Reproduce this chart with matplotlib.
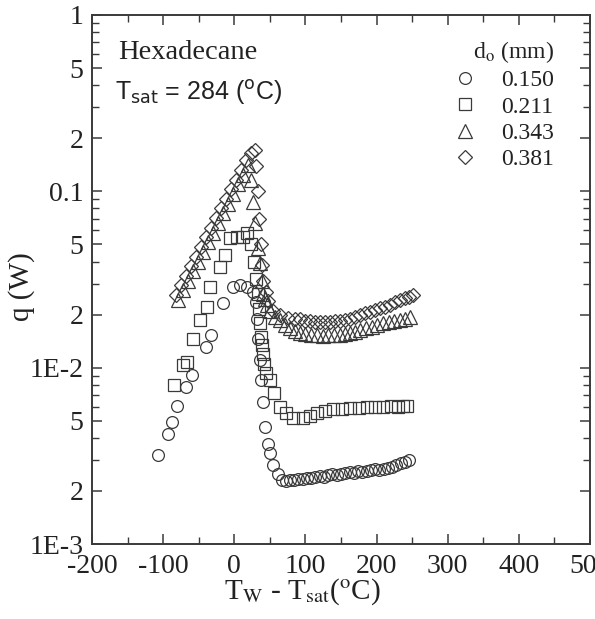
import matplotlib
matplotlib.use("Agg")
import matplotlib.pyplot as plt
from matplotlib import ticker

# d_o = 0.150 mm
circ_x = [-107, -93, -88, -80, -68, -59, -40, -33, -16, -2, 8, 18, 26,
          30, 32, 34, 36, 38, 40, 43, 47, 50, 54, 61, 67,
          72, 78, 84, 90, 96, 102, 108, 114, 120, 126, 132, 138, 144, 150, 156,
          162, 168, 174, 180, 186, 192, 198, 204, 210, 216, 222, 228, 234, 240, 245]
circ_y = [0.0032, 0.0042, 0.0049, 0.0061, 0.0078, 0.0091, 0.0131, 0.0153, 0.0233, 0.0287, 0.0294, 0.0287, 0.0270,
          0.0235, 0.0190, 0.0145, 0.0110, 0.0085, 0.0064, 0.0046, 0.0037, 0.0033, 0.0028, 0.0025, 0.0023,
          0.00228, 0.00232, 0.00230, 0.00235, 0.00233, 0.00238, 0.00236, 0.00240, 0.00242, 0.00240,
          0.00245, 0.00248, 0.00246, 0.00250, 0.00252, 0.00255, 0.00253, 0.00258, 0.00256, 0.00260,
          0.00262, 0.00265, 0.00263, 0.00268, 0.00270, 0.00275, 0.00280, 0.00288, 0.00292, 0.00300]

# d_o = 0.211 mm
sq_x = [-85, -72, -66, -58, -48, -38, -34, -20, -13, -6, 4, 12, 18,
        24, 28, 31, 33, 35, 36, 38, 39, 40, 42, 45, 50, 56, 64, 72, 83, 97,
        106, 116, 128, 139, 151, 163, 175, 187, 198, 209, 220, 230, 237, 243]
sq_y = [0.0080, 0.0104, 0.0108, 0.0145, 0.0186, 0.0221, 0.0287, 0.0372, 0.0436, 0.0544, 0.0551, 0.0551, 0.0580,
        0.050, 0.040, 0.032, 0.026, 0.0215, 0.018, 0.015, 0.0135, 0.012, 0.0105, 0.0093, 0.0085, 0.0072,
        0.0060, 0.0055, 0.0052, 0.0052,
        0.0053, 0.0055, 0.0057, 0.0058, 0.0058, 0.0059, 0.0059, 0.0060, 0.0060, 0.0060, 0.0061, 0.0060,
        0.0061, 0.0061]

# d_o = 0.343 mm
tri_x = [-79, -72, -65, -58, -51, -44, -37, -30, -23, -16, -9, -2, 5, 12, 19,
         24, 26, 29, 33, 36, 39, 40, 43, 46, 50, 57, 64, 71, 78, 85, 92,
         100, 108, 116, 124, 132, 140, 149, 156, 163, 170, 177, 185, 193, 201, 209, 217, 225, 233, 240, 247]
tri_y = [0.0242, 0.0276, 0.0310, 0.0353, 0.0397, 0.0453, 0.0516, 0.058, 0.0661, 0.0754, 0.0848, 0.0966,
         0.110, 0.124, 0.141,
         0.116, 0.087, 0.066, 0.048, 0.039, 0.031, 0.026, 0.0245, 0.0228, 0.021,
         0.0195, 0.0186, 0.0175, 0.0168, 0.0162, 0.0157,
         0.0155, 0.0153, 0.0153, 0.0152, 0.0153, 0.0153, 0.0153, 0.0155, 0.0157, 0.0160, 0.0164, 0.0167,
         0.0171, 0.0175, 0.0179, 0.0182, 0.0185, 0.0186, 0.0190, 0.0194]

# d_o = 0.381 mm
dia_x = [-82, -75, -68, -61, -54, -47, -40, -33, -26, -19, -12, -5, 2, 9, 16, 23, 29,
         31, 33, 35, 37, 39, 41, 44, 48, 55, 64, 75, 85,
         92, 99, 106, 113, 120, 127, 135, 142, 149, 156, 163, 170, 177, 184, 191, 198, 205, 212,
         219, 226, 233, 240, 245, 251]
dia_y = [0.0258, 0.0294, 0.0331, 0.0377, 0.0424, 0.0483, 0.0551, 0.0619, 0.0706, 0.0804, 0.0905, 0.103,
         0.116, 0.132, 0.151, 0.165, 0.1715,
         0.14, 0.10, 0.07, 0.05, 0.038, 0.031, 0.027, 0.024, 0.021, 0.0198, 0.0192, 0.0189,
         0.0188, 0.0185, 0.0183, 0.0182, 0.0182, 0.0181, 0.0182, 0.0183, 0.0184, 0.0187, 0.0190, 0.0194,
         0.0199, 0.0203, 0.0207, 0.0212, 0.0217, 0.0222, 0.0228, 0.0235, 0.0242, 0.0248, 0.0252, 0.0258]

y_ticks = [1e-3, 2e-3, 5e-3, 1e-2, 2e-2, 5e-2, 0.1, 0.2, 0.5, 1]
y_tick_labels = ['1E-3', '2', '5', '1E-2', '2', '5', '0.1', '2', '5', '1']

plt.rcParams['font.family'] = 'Liberation Serif'
plt.rcParams['mathtext.fontset'] = 'stix'
plt.rcParams['axes.unicode_minus'] = False

ink = '#3a3a3a'
fig = plt.figure(figsize=(5.95, 6.19), dpi=100)
ax = fig.add_axes([92/595, 1 - 544/619, (590 - 92)/595, (544 - 15)/619])

mk = dict(linestyle='none', markerfacecolor='none', markeredgecolor=ink, markeredgewidth=0.9)
ax.plot(circ_x, circ_y, marker='o', markersize=8.5, label='0.150', **mk)
ax.plot(sq_x, sq_y, marker='s', markersize=8.5, label='0.211', **mk)
ax.plot(tri_x, tri_y, marker='^', markersize=9.5, label='0.343', **mk)
ax.plot(dia_x, dia_y, marker='D', markersize=7.5, label='0.381', **mk)

ax.set_xlim(-200, 500)
ax.set_yscale('log')
ax.set_ylim(1e-3, 1)
ax.xaxis.set_major_locator(ticker.MultipleLocator(100))
ax.xaxis.set_minor_locator(ticker.MultipleLocator(50))
ax.yaxis.set_major_locator(ticker.FixedLocator(y_ticks))
ax.yaxis.set_major_formatter(ticker.FixedFormatter(y_tick_labels))
ax.yaxis.set_minor_locator(ticker.LogLocator(base=10, subs=[3, 4, 6, 7, 8, 9]))
ax.yaxis.set_minor_formatter(ticker.NullFormatter())

ax.tick_params(which='both', direction='in', top=True, right=True, colors=ink, labelcolor='#222222',
               labelsize=20)
ax.tick_params(which='major', length=7, width=1.1)
ax.tick_params(which='minor', length=5, width=1.0)
ax.tick_params(axis='x', pad=7)
ax.tick_params(axis='y', pad=6)
for s in ax.spines.values():
    s.set_color(ink)
    s.set_linewidth(1.4)

ax.text(0.052, 0.930, 'Hexadecane', transform=ax.transAxes, fontsize=20.5, va='center', ha='left',
        color='#222222')
ax.text(0.046, 0.854, r'T$_{\rm sat}$ = 284 ($^{\rm o}$C)', transform=ax.transAxes, fontsize=18,
        va='center', ha='left', family='Liberation Sans', math_fontfamily='dejavusans', color='#222222')

ax.text(0.422, -0.091, r'T$_{\rm W}$ - T$_{\rm sat}$($^{\rm o}$C)', transform=ax.transAxes,
        fontsize=21, ha='center', va='center', color='#222222')
ax.text(-0.141, 0.486, 'q (W)', transform=ax.transAxes, fontsize=21, rotation=90,
        ha='center', va='center', color='#222222')

leg = ax.legend(title=r'd$_{\rm o}$ (mm)', loc='upper right', bbox_to_anchor=(0.946, 0.972),
                frameon=False, fontsize=17, title_fontsize=17, handletextpad=1.0,
                labelspacing=0.2, borderaxespad=0, handlelength=1.0, alignment='right')
for t in leg.get_texts():
    t.set_color('#222222')
leg.get_title().set_color('#222222')

fig.savefig('out.png', dpi=100, facecolor='white')
